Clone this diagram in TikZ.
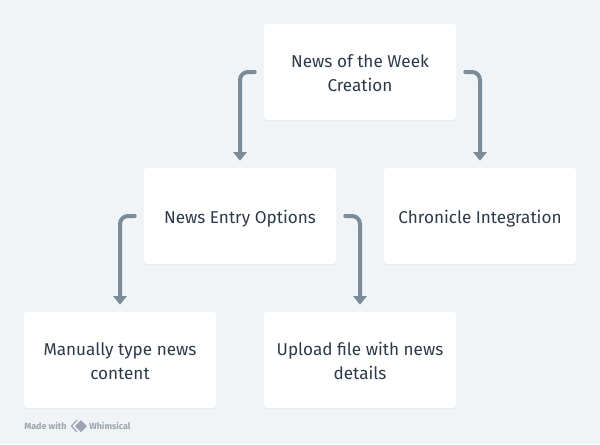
\documentclass[tikz,border=0pt]{standalone}
\usepackage{fontspec}
\setmainfont{Fira Sans}
\usetikzlibrary{arrows.meta, shadows}
\definecolor{pagebg}{HTML}{F0F4F7}
\definecolor{linkcol}{HTML}{7B8B9A}
\definecolor{textcol}{HTML}{2D3A4A}
\definecolor{markcol}{HTML}{9AA5B1}
\newcommand{\cardstrut}{\vrule width 0pt height 13.5pt depth 3pt}
\newcommand{\cardtop}{\vrule width 0pt height 14.5pt}
\tikzset{
  card/.style={fill=white, rounded corners=2.25pt, minimum width=144pt, minimum height=72pt,
    inner sep=0pt, align=center, text=textcol, font=\fontsize{12.85}{18}\selectfont,
    execute at begin node=\cardstrut, execute at end node=\cardstrut,
    drop shadow={shadow xshift=0pt, shadow yshift=-0.75pt, fill=black, opacity=0.04}},
  link/.style={draw=linkcol, line width=3pt, rounded corners=6pt, line cap=round,
    -{Triangle[length=6.5pt, width=10pt]}, shorten <=6.75pt, shorten >=5.25pt},
  footer/.style={anchor=west, inner sep=0pt, text=markcol, font=\fontsize{6.7}{7}\selectfont\bfseries},
}
\begin{document}
\begin{tikzpicture}[x=0.75pt, y=-0.75pt]
    \useasboundingbox[fill=pagebg] (0, 0) rectangle (600, 444);

    \node[card] (creation) at (360, 72) {\cardtop News of the Week\\Creation};
    \node[card] (options) at (240, 216) {News Entry Options};
    \node[card] (chronicle) at (480, 216) {Chronicle Integration};
    \node[card] (manual) at (120, 360) {\cardtop Manually type news\\content};
    \node[card] (upload) at (360, 360) {\cardtop Upload file with news\\details};

    \draw[link] (creation.west) -| (options.north);
    \draw[link] (creation.east) -| (chronicle.north);
    \draw[link] (options.west) -| (manual.north);
    \draw[link] (options.east) -| (upload.north);

    % footer mark
    \node[footer] (madewith) at (24, 426) {Made with};
    \draw[markcol, line width=0.9pt, line join=round] (77, 420) -- (71.5, 426) -- (77, 432);
    \fill[markcol] (81, 420) -- (87, 426) -- (81, 432) -- (75, 426) -- cycle;
    \node[footer] (brand) at (89, 426) {Whimsical};
\end{tikzpicture}
\end{document}
